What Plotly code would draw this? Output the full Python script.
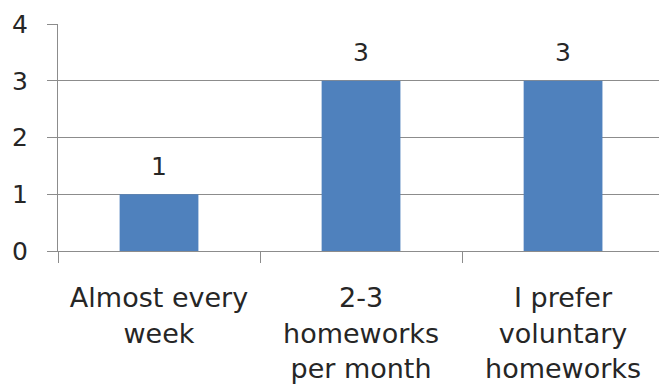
import plotly.graph_objects as go

# Survey answers: how often homework should be given
categories = ["Almost every week", "2-3 homeworks per month", "I prefer voluntary homeworks"]
tick_labels = ["Almost every<br>week", "2-3<br>homeworks<br>per month", "I prefer<br>voluntary<br>homeworks"]
counts = [1, 3, 3]
y_ticks = [0, 1, 2, 3, 4]

BAR = "#4F81BD"
GRID = "#8C8C8C"
TEXT = "#262626"
FONT = "DejaVu Sans"

fig = go.Figure(
    go.Bar(
        x=categories,
        y=counts,
        marker=dict(color=BAR, line=dict(width=0)),
        width=0.39,
        hoverinfo="skip",
    )
)

# value labels above each bar
for c, v in zip(categories, counts):
    fig.add_annotation(
        x=c, y=v, text=str(v), showarrow=False,
        yanchor="middle", yshift=28,
        font=dict(family=FONT, size=25, color=TEXT),
    )

fig.update_layout(
    width=659,
    height=390,
    margin=dict(l=58, r=0, t=24, b=139),
    paper_bgcolor="white",
    plot_bgcolor="white",
    showlegend=False,
    font=dict(family=FONT, size=25, color=TEXT),
    bargap=0.61,
)

fig.update_xaxes(
    type="category",
    categoryorder="array",
    categoryarray=categories,
    range=[-0.5, 2.475],
    tickmode="array",
    tickvals=categories,
    ticktext=tick_labels,
    tickson="boundaries",
    ticks="outside",
    ticklen=11,
    tickcolor=GRID,
    tickwidth=1,
    showline=True,
    linecolor=GRID,
    linewidth=1,
    showgrid=False,
    ticklabelstandoff=23,
    tickfont=dict(family=FONT, size=27, color=TEXT),
)

fig.update_yaxes(
    range=[0, 4],
    tickmode="array",
    tickvals=y_ticks,
    ticks="outside",
    ticklen=10,
    tickcolor=GRID,
    showline=True,
    linecolor=GRID,
    linewidth=1,
    showgrid=True,
    gridcolor=GRID,
    gridwidth=1,
    zeroline=False,
    ticklabelstandoff=14,
    tickfont=dict(family=FONT, size=25, color=TEXT),
)

fig.write_html("out.html")
